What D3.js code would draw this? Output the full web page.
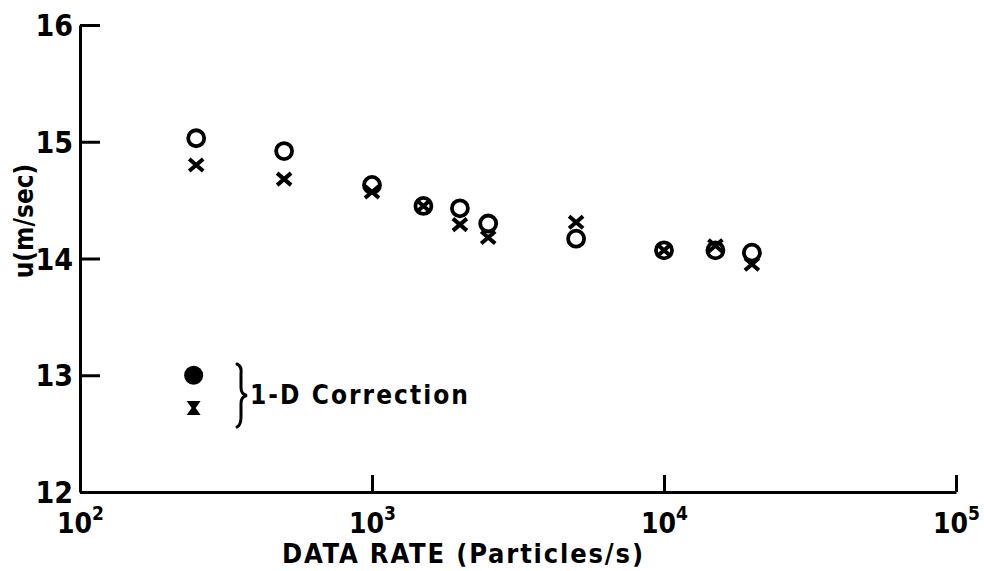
<!DOCTYPE html>
<html>
<head>
<meta charset="utf-8">
<script src="https://cdn.jsdelivr.net/npm/d3@7"></script>
<style>
  body { margin: 0; background: #fff; }
  text { font-family: "DejaVu Sans Condensed", "DejaVu Sans", sans-serif; font-weight: bold; fill: #000; }
</style>
</head>
<body>
<div id="chart"></div>
<script>
// data
const rates  = [250, 500, 1000, 1500, 2000, 2500, 5000, 10000, 15000, 20000];
const uOpen  = [15.03, 14.92, 14.63, 14.45, 14.43, 14.30, 14.17, 14.07, 14.07, 14.05];
const uCross = [14.80, 14.68, 14.57, 14.45, 14.29, 14.18, 14.31, 14.07, 14.11, 13.95];
const corrRate = [245];
const corrDot = [13.0];
const corrCross = [12.72];
const xTicks = [2, 3, 4, 5];          // exponents of 10
const yTicks = [12, 13, 14, 15, 16];

const width = 984, height = 571;

const svg = d3.select("#chart")
  .append("svg")
    .attr("width", width)
    .attr("height", height);

const x = d3.scaleLog()
  .domain([1e2, 1e5])
  .range([80, 956]);

const y = d3.scaleLinear()
  .domain([12, 16])
  .range([492, 25]);

// Y axis, ticks pointing inward
const yAxis = svg.append("g")
  .attr("transform", `translate(${x(1e2)},0)`)
  .call(d3.axisLeft(y).tickValues(yTicks).tickSizeInner(-20).tickSizeOuter(0).tickPadding(7).tickFormat(d3.format("d")));
yAxis.select(".domain").attr("stroke-width", 3);
yAxis.selectAll(".tick line").attr("stroke-width", 3);
yAxis.selectAll(".tick text").attr("font-size", 30).attr("dy", "0.35em");

// X axis
const xAxis = svg.append("g")
  .attr("transform", `translate(0,${y(12)})`)
  .call(d3.axisBottom(x).tickValues(xTicks.map(e => Math.pow(10, e))).tickSizeInner(-17).tickSizeOuter(0).tickPadding(6).tickFormat(""));
xAxis.select(".domain").attr("stroke-width", 3);
xAxis.selectAll(".tick line").attr("stroke-width", 3)
  .attr("display", (d, i) => i === 0 ? "none" : null);
xAxis.selectAll(".tick").each(function(d) {
  const t = d3.select(this).append("text")
    .attr("y", 41)
    .attr("font-size", 28)
    .attr("text-anchor", "middle");
  t.append("tspan").text("10");
  t.append("tspan").attr("dy", -13).attr("font-size", 19).text(Math.round(Math.log10(d)));
});

// axis titles
svg.append("text")
  .attr("x", 282).attr("y", 563)
  .attr("font-size", 27)
  .attr("textLength", 361)
  .text("DATA RATE (Particles/s)");

svg.append("text")
  .attr("transform", "translate(33,221) rotate(-90)")
  .attr("text-anchor", "middle")
  .attr("font-size", 26)
  .text("u(m/sec)");

const pts = rates.map((r, i) => ({r: r, o: uOpen[i], c: uCross[i]}));

// open circles
svg.append("g").selectAll("circle")
  .data(pts)
  .enter().append("circle")
    .attr("cx", d => x(d.r))
    .attr("cy", d => y(d.o))
    .attr("r", 8)
    .attr("fill", "none")
    .attr("stroke", "#000")
    .attr("stroke-width", 3.8);

// crosses
svg.append("g").selectAll("path")
  .data(pts)
  .enter().append("path")
    .attr("d", d => {
      const cx = x(d.r), cy = y(d.c);
      return `M${cx - 7},${cy - 6}L${cx + 7},${cy + 6}M${cx - 7},${cy + 6}L${cx + 7},${cy - 6}`;
    })
    .attr("stroke", "#000")
    .attr("stroke-width", 4)
    .attr("fill", "none");

// 1-D correction points
svg.append("circle")
  .attr("cx", x(corrRate[0]))
  .attr("cy", y(corrDot[0]))
  .attr("r", 9.5)
  .attr("fill", "#000");

svg.append("path")
  .attr("d", () => {
    const cx = x(corrRate[0]), cy = y(corrCross[0]);
    return `M${cx - 7},${cy - 7}L${cx + 7},${cy - 7}L${cx + 2},${cy}L${cx + 7},${cy + 7}L${cx - 7},${cy + 7}L${cx - 2},${cy}Z`;
  })
  .attr("fill", "#000");

// brace
const bx = 240, by0 = 364, by1 = 427, bm = (by0 + by1) / 2;
svg.append("path")
  .attr("d", `M${bx - 3},${by0} Q${bx + 2},${by0 + 2} ${bx + 1},${by0 + 10} L${bx + 1},${bm - 8} Q${bx + 1},${bm - 1} ${bx + 7},${bm}` +
             ` Q${bx + 1},${bm + 1} ${bx + 1},${bm + 8} L${bx + 1},${by1 - 10} Q${bx + 1},${by1 - 2} ${bx - 3},${by1}`)
  .attr("fill", "none")
  .attr("stroke", "#000")
  .attr("stroke-width", 3)
  .attr("stroke-linecap", "round");

svg.append("text")
  .attr("x", 250).attr("y", 404)
  .attr("font-size", 26)
  .attr("textLength", 218)
  .text("1-D Correction");
</script>
</body>
</html>
